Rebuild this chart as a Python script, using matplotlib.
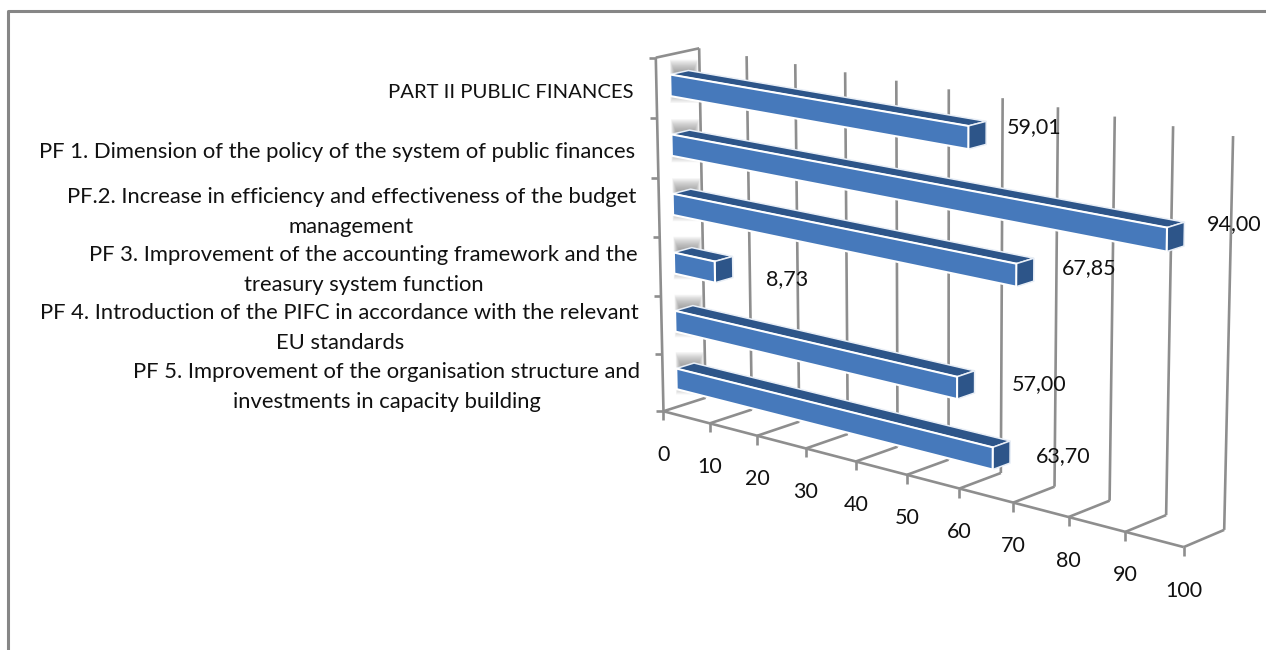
import numpy as np
import matplotlib
matplotlib.use('Agg')
import matplotlib.pyplot as plt
from matplotlib.patches import Polygon

categories = [
    'PART II PUBLIC FINANCES',
    'PF 1. Dimension of the policy of the system of public finances',
    'PF.2. Increase in efficiency and effectiveness of the budget\nmanagement',
    'PF 3. Improvement of the accounting framework and the\ntreasury system function',
    'PF 4. Introduction of the PIFC in accordance with the relevant\nEU standards',
    'PF 5. Improvement of the organisation structure and\ninvestments in capacity building',
]
values = [59.01, 94.00, 67.85, 8.73, 57.00, 63.70]
value_labels = ['59,01', '94,00', '67,85', '8,73', '57,00', '63,70']
x_ticks = [0, 10, 20, 30, 40, 50, 60, 70, 80, 90, 100]

# where the labels sit, pixels
label_right = [633, 635, 636, 638, 639, 640]
label_y = [92, 152, 212, 270, 328, 387]
label_size = [14.6, 15.8, 15.8, 15.8, 15.8, 15.8]
value_offset = [(48, -6), (50, -10), (55, -2), (54, 12), (64, 2), (53, 4)]

GRID = '#8e8e8e'
FRONT = '#4679bb'
DARK = '#2d5589'
FONT = 'Lato'
FS = 15.5

# corners of the 3d box in pixels: (value, slot, depth) -> (x, y)
box = [
    ((0, 0, 0), (664, 411)),
    ((100, 0, 0), (1184, 547)),
    ((0, 6, 0), (655, 58)),
    ((0, 0, 1), (705, 398)),
    ((0, 6, 1), (700, 48)),
    ((100, 0, 1), (1224, 530)),
    ((100, 6, 1), (1233, 136)),
]


def fit_camera(pairs):
    # plain DLT fit, last entry of the matrix fixed to 1
    A, b = [], []
    for (v, h, d), (px, py) in pairs:
        X = [v / 100, h / 6, d, 1]
        A.append(X + [0, 0, 0, 0] + [-px * c for c in X[:3]])
        A.append([0, 0, 0, 0] + X + [-py * c for c in X[:3]])
        b += [px, py]
    p = np.linalg.lstsq(np.array(A, float), np.array(b, float), rcond=None)[0]
    return np.append(p, 1).reshape(3, 4)


CAM = fit_camera(box)


def project(v, h, d):
    w = CAM @ np.array([v / 100, h / 6, d, 1])
    return w[0] / w[2], w[1] / w[2]


fig = plt.figure(figsize=(12.66, 6.5), dpi=100)
ax = fig.add_axes([0, 0, 1, 1])
ax.set_xlim(0, 1266)
ax.set_ylim(650, 0)
ax.axis('off')


def line(a, b, lw=1.9, z=2):
    ax.plot([a[0], b[0]], [a[1], b[1]], color=GRID, lw=lw, zorder=z,
            solid_capstyle='butt')


# outer frame
ax.plot([8, 8, 1266], [650, 11, 11], color='#868686', lw=2.2, zorder=1)

# walls and floor
for t in x_ticks:
    line(project(t, 0, 1), project(t, 6, 1))
    line(project(t, 0, 0), project(t, 0, 1))
    x, y = project(t, 0, 0)
    line((x, y), (x, y + 9))
    ax.text(x, y + 43.5, str(t), ha='center', va='center',
            family=FONT, fontsize=FS, color='#111111', zorder=6)
line(project(0, 0, 0), project(100, 0, 0))
line(project(0, 0, 0), project(0, 6, 0))
line(project(0, 6, 0), project(0, 6, 1))
for h in range(7):
    x, y = project(0, h, 0)
    line((x - 7, y), (x, y))

# bars, top one first
for i, val in enumerate(values):
    slot = 5 - i
    h0, h1 = slot + 0.31, slot + 0.67
    d0, d1 = 0.32, 0.74

    # soft shadow on the wall behind the start of the bar
    x0, y0 = project(0, h0, d1)
    x1, y1 = project(0, h1, d1)
    for k in range(16):
        grow = 11 - k * 0.8
        ax.add_patch(Polygon(
            [(x1 - 14 - grow * 0.4, y1 - grow), (x1 + 5 + grow * 0.4, y1 - grow),
             (x0 + 5 + grow * 0.4, y0 + grow), (x0 - 14 - grow * 0.4, y0 + grow)],
            closed=True, fc='#707070', ec='none', alpha=0.05, zorder=3))

    top = [project(0, h1, d0), project(val, h1, d0), project(val, h1, d1), project(0, h1, d1)]
    side = [project(val, h0, d0), project(val, h1, d0), project(val, h1, d1), project(val, h0, d1)]
    front = [project(0, h0, d0), project(val, h0, d0), project(val, h1, d0), project(0, h1, d0)]
    ax.add_patch(Polygon(top, closed=True, fc=DARK, ec='#e8eef6', lw=1.1, zorder=4))
    ax.add_patch(Polygon(side, closed=True, fc=DARK, ec='#e8eef6', lw=1.1, zorder=4))
    ax.add_patch(Polygon(front, closed=True, fc=FRONT, ec='white', lw=1.5, zorder=5))

    # value label next to the bar end
    ex, ey = project(val, (h0 + h1) / 2, d1)
    ax.text(ex + value_offset[i][0], ey + value_offset[i][1], value_labels[i],
            ha='center', va='center', family=FONT, fontsize=FS, color='#111111', zorder=6)

# category labels
for i, name in enumerate(categories):
    ax.text(label_right[i], label_y[i], name, ha='right', va='center',
            multialignment='center', linespacing=1.59, family=FONT,
            fontsize=label_size[i], color='#111111', zorder=6)

fig.savefig('out.png', dpi=100, facecolor='white')
